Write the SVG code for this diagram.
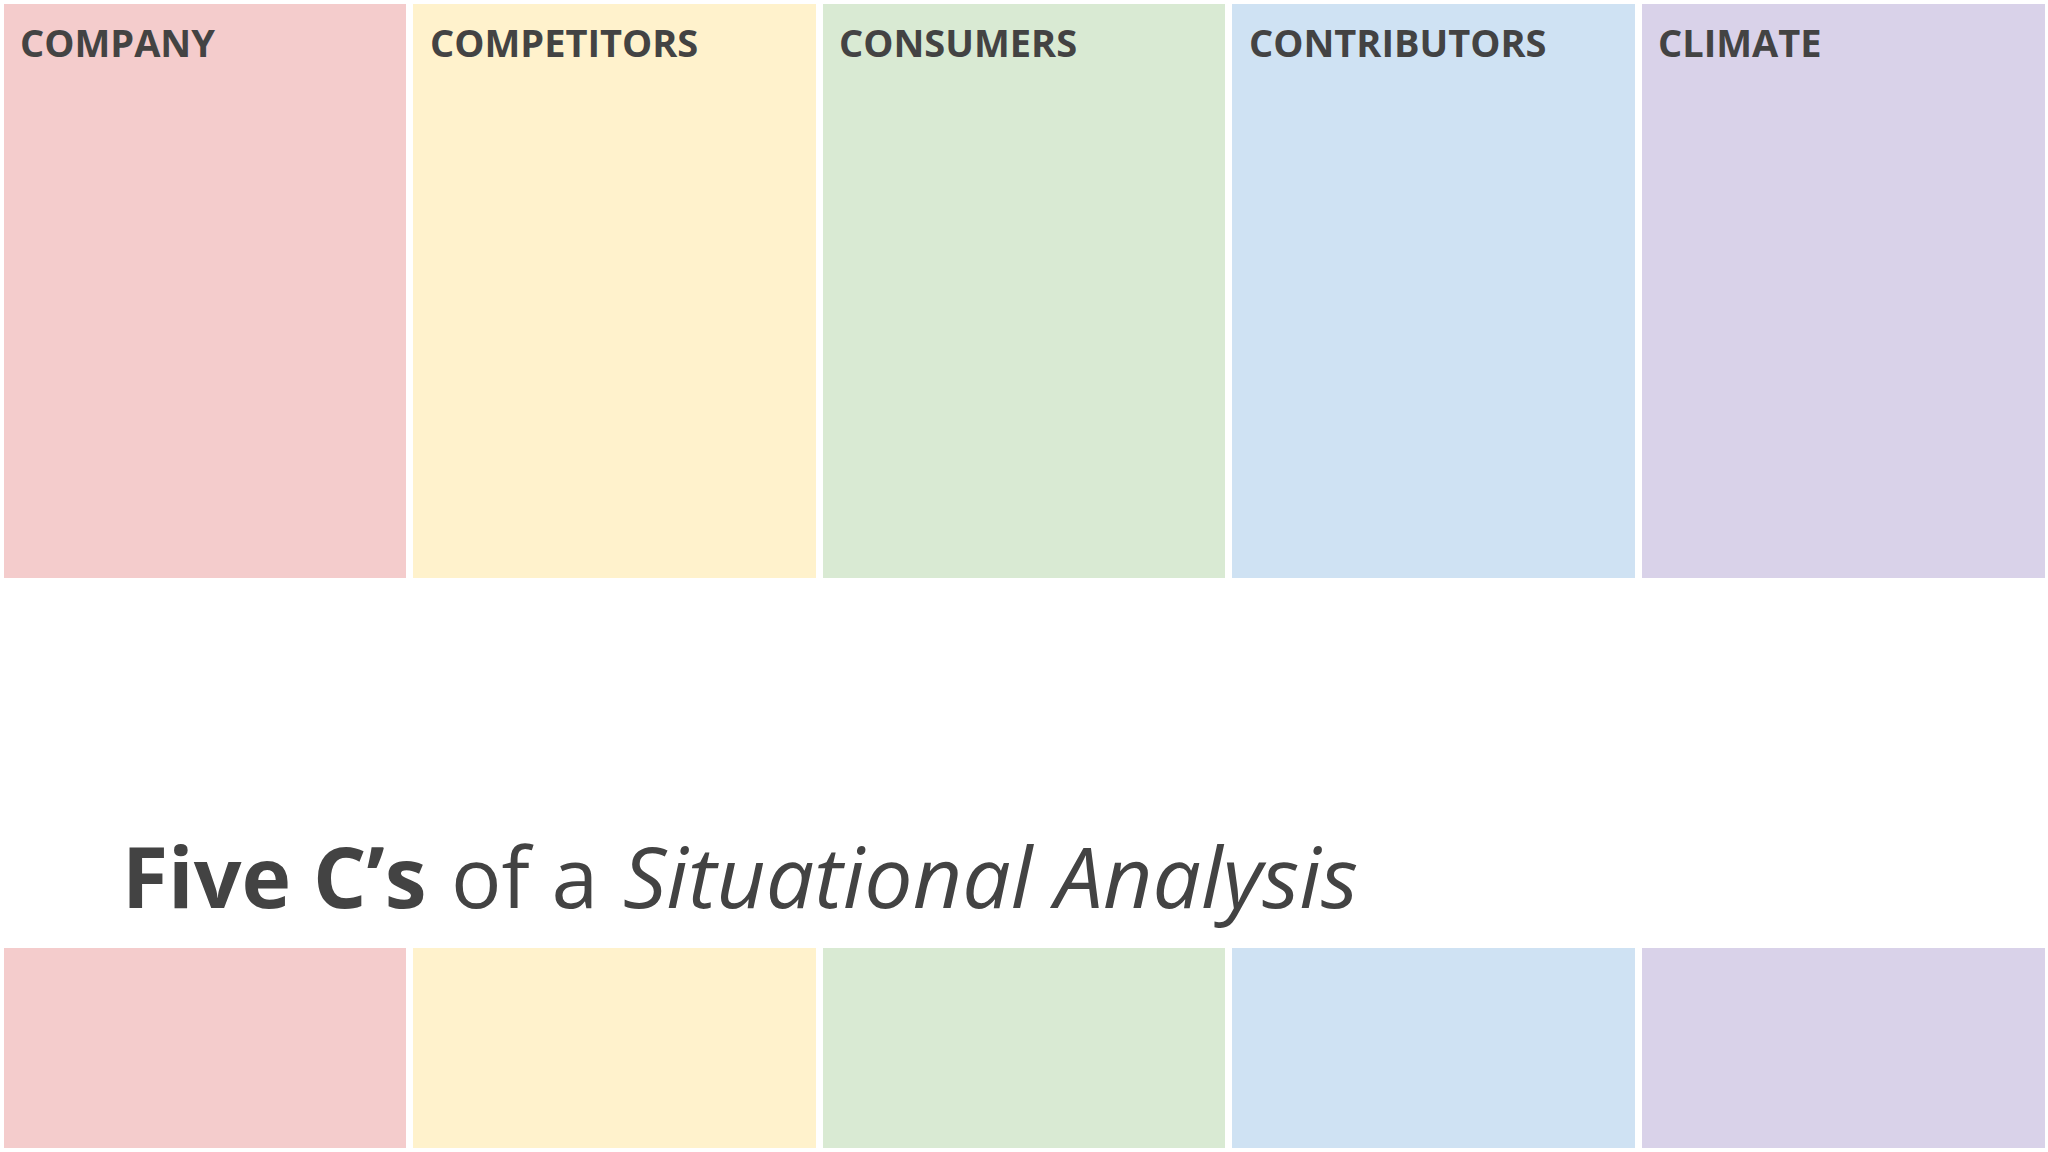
<svg xmlns="http://www.w3.org/2000/svg" width="2048" height="1152" viewBox="0 0 2048 1152">
<style>
.hd{font-family:"Open Sans","Noto Sans",sans-serif;font-weight:700;font-size:38px;fill:#434343}
.tt{font-family:"Open Sans","Noto Sans",sans-serif;font-size:84px;fill:#434343}
.c1{fill:#F4CCCC}.c2{fill:#FFF2CC}.c3{fill:#D9EAD3}.c4{fill:#CFE2F3}.c5{fill:#D9D2E9}
</style>
<rect width="2048" height="1152" fill="#FFFFFF"/>
<g id="company">
<rect class="c1" x="4" y="4" width="402" height="574"/>
<text class="hd" x="20" y="57">COMPANY</text>
<rect class="c1" x="4" y="948" width="402" height="200"/>
</g>
<g id="competitors">
<rect class="c2" x="413" y="4" width="403" height="574"/>
<text class="hd" x="430" y="57">COMPETITORS</text>
<rect class="c2" x="413" y="948" width="403" height="200"/>
</g>
<g id="consumers">
<rect class="c3" x="823" y="4" width="402" height="574"/>
<text class="hd" x="839" y="57">CONSUMERS</text>
<rect class="c3" x="823" y="948" width="402" height="200"/>
</g>
<g id="contributors">
<rect class="c4" x="1232" y="4" width="403" height="574"/>
<text class="hd" x="1249" y="57">CONTRIBUTORS</text>
<rect class="c4" x="1232" y="948" width="403" height="200"/>
</g>
<g id="climate">
<rect class="c5" x="1642" y="4" width="403" height="574"/>
<text class="hd" x="1658" y="57">CLIMATE</text>
<rect class="c5" x="1642" y="948" width="403" height="200"/>
</g>
<g id="title">
<text class="tt" x="122" y="908" font-weight="700">Five C’s</text>
<text class="tt" x="451" y="908">of a</text>
<text class="tt" x="623" y="908" font-style="italic" textLength="735" lengthAdjust="spacingAndGlyphs">Situational Analysis</text>
</g>
<g id="connectors"></g>
</svg>
